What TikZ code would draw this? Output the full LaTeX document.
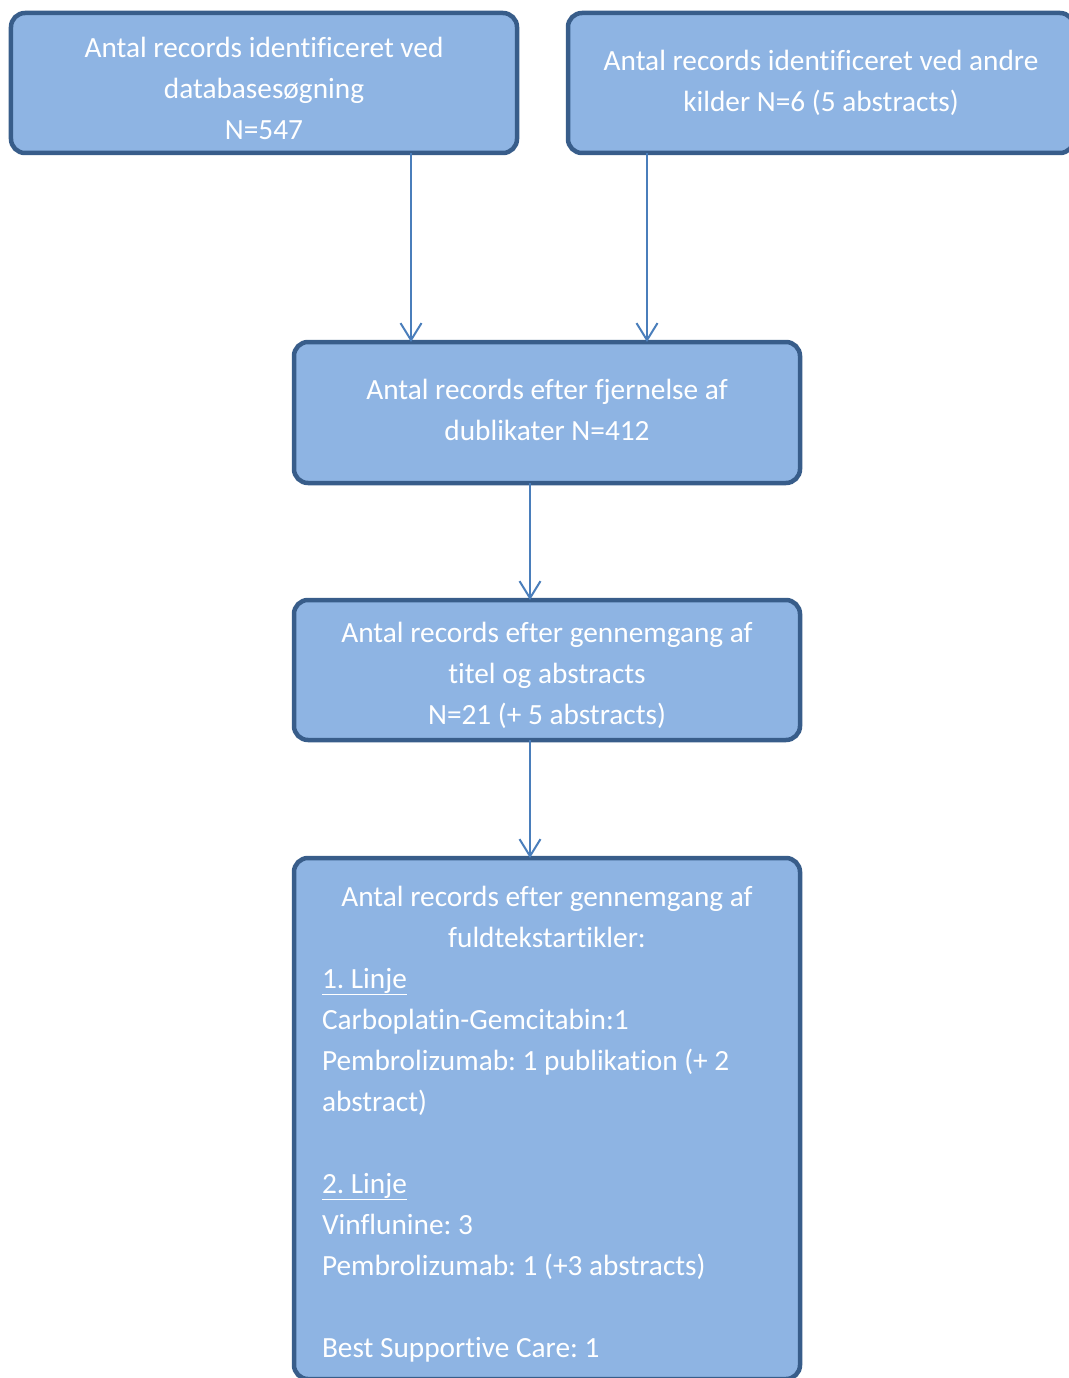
\documentclass[tikz,border=0pt]{standalone}
\usepackage{fontspec}
\setmainfont{Carlito}[Ligatures=NoCommon]
\usetikzlibrary{arrows.meta}
\frenchspacing
\definecolor{boxFillColor}{HTML}{8EB4E3}
\definecolor{boxLineColor}{HTML}{385D8A}
\definecolor{boxTextColor}{HTML}{FFFFFF}
\definecolor{linkColor}{HTML}{4A7EBB}
\def\topStrut{\rule{0pt}{31bp}}

\tikzset{
  flowBox/.style={rectangle, draw=boxLineColor, fill=boxFillColor,
    line width=4.5bp, rounded corners=14bp, outer sep=0pt, inner sep=0pt,
    minimum width=506bp, minimum height=140bp, text=boxTextColor,
    font=\fontsize{29.3bp}{41bp}\selectfont, align=center},
  link/.style={draw=linkColor, line width=2bp,
    -{Straight Barb[length=17bp, width=21bp, line width=2bp]}}
}

\begin{document}
\begin{tikzpicture}[x=1bp,y=-1bp]

\useasboundingbox (0, 0) rectangle (1068, 1378);

% box layer
\begin{scope}
\node[flowBox] (boxA) at (264, 83)
{\topStrut Antal records identificeret ved\\databasesøgning\\N=547};
\node[flowBox] (boxB) at (821, 83)
{Antal records identificeret ved andre\\kilder N=6 (5 abstracts)};
\node[flowBox, minimum height=141bp] (boxC) at (547, 412.5)
{Antal records efter fjernelse af\\dublikater N=412\rule[-6bp]{0pt}{1bp}};
\node[flowBox] (boxD) at (547, 670)
{\topStrut Antal records efter gennemgang af\\titel og abstracts\\N=21 (+ 5 abstracts)};
\node[flowBox, text width=450bp, align=flush left, inner xsep=28bp,
minimum height=521bp] (boxE) at (547, 1118.5)
{\topStrut\makebox[450bp]{Antal records efter gennemgang af}\\
\makebox[450bp]{fuldtekstartikler:}\\
\underline{1. Linje}\\
Carboplatin-Gemcitabin:1\\
Pembrolizumab: 1 publikation (+ 2\\
abstract)\\[41bp]
\underline{2. Linje}\\
Vinflunine: 3\\
Pembrolizumab: 1 (+3 abstracts)\\[41bp]
Best Supportive Care: 1};
\end{scope}

% link layer
\begin{scope}
\draw[link] ([xshift=147bp]boxA.south) -- ([xshift=147bp]boxA.south |- boxC.north);
\draw[link] ([xshift=-174bp]boxB.south) -- ([xshift=-174bp]boxB.south |- boxC.north);
\draw[link] ([xshift=-17bp]boxC.south) -- ([xshift=-17bp]boxC.south |- boxD.north);
\draw[link] ([xshift=-17bp]boxD.south) -- ([xshift=-17bp]boxD.south |- boxE.north);
\end{scope}

\end{tikzpicture}
\end{document}
